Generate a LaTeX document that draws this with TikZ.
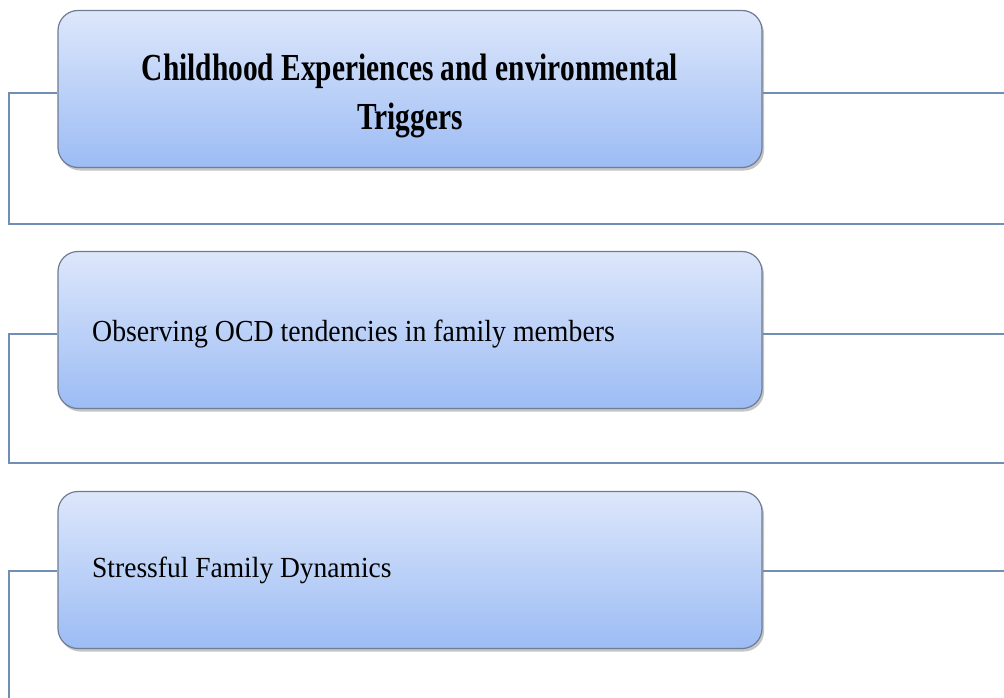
\documentclass[tikz,border=0pt]{standalone}
\usepackage{fontspec}
\setmainfont{Liberation Serif}
\usetikzlibrary{shadows}
\definecolor{linkblue}{HTML}{6F8FB5}
\definecolor{boxedge}{HTML}{6E7C94}
\definecolor{boxtop}{HTML}{DDE7FB}
\definecolor{boxbot}{HTML}{9CBCF4}
\tikzset{
  x=1pt, y=-1pt,
  stage/.style={draw=boxedge, line width=1.2pt, rounded corners=20pt,
    top color=boxtop, bottom color=boxbot,
    minimum width=704pt, minimum height=157pt, inner sep=0pt,
    drop shadow={shadow xshift=2pt, shadow yshift=-3pt, fill=black!45, opacity=0.5}},
  link/.style={draw=linkblue, line width=1.6pt},
  heading/.style={font=\fontsize{29.4}{34}\selectfont\bfseries, anchor=base, inner sep=0pt},
  label/.style={anchor=base west, inner sep=0pt}
}
\newcommand{\tallbox}[2][1.1]{\scalebox{1}[#1]{#2}}
\begin{document}
\begin{tikzpicture}
\useasboundingbox (0,0) rectangle (1004,698);
\fill[white] (0,0) rectangle (1004,698);

% stages
\node[stage] (s1) at (410,89) {};
\node[stage] (s2) at (410,330) {};
\node[stage] (s3) at (410,570) {};

% connectors around each stage
\coordinate (l1) at (9,93);
\coordinate (b1) at (9,224);
\coordinate (r1) at (1004,93);
\coordinate (e1) at (1004,224);
\draw[link] (s1.west |- l1) -- (l1) -- (b1) -- (e1);
\draw[link] (s1.east |- r1) -- (r1);

\coordinate (l2) at (9,334);
\coordinate (b2) at (9,463);
\coordinate (r2) at (1004,334);
\coordinate (e2) at (1004,463);
\draw[link] (s2.west |- l2) -- (l2) -- (b2) -- (e2);
\draw[link] (s2.east |- r2) -- (r2);

\coordinate (l3) at (9,571);
\coordinate (b3) at (9,698);
\coordinate (r3) at (1004,571);
\draw[link] (s3.west |- l3) -- (l3) -- (b3);
\draw[link] (s3.east |- r3) -- (r3);

% stage texts
\node[heading] (t1a) at (410,81) {\tallbox[1.3]{Childhood Experiences and environmental}};
\node[heading] (t1b) at (410,130) {\tallbox[1.3]{Triggers}};
\node[label, font=\fontsize{27.8}{32}\selectfont] (t2) at (92,341)
  {\tallbox{Observing OCD tendencies in family members}};
\node[label, font=\fontsize{27.5}{32}\selectfont] (t3) at (92,577)
  {\tallbox[1.06]{Stressful Family Dynamics}};
\end{tikzpicture}
\end{document}
